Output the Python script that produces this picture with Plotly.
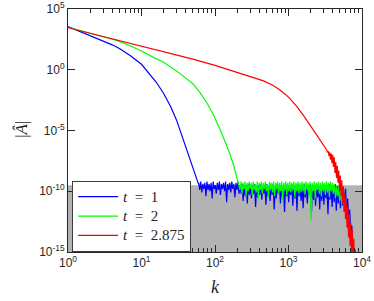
import numpy as np
import plotly.graph_objects as go

# ---- data (log10 of |A_hat|) ----
blue_k = [1, 1.5, 2, 3, 4, 5, 7, 10, 13, 16, 20, 25, 30, 37, 45, 52, 60]
blue_logA = [3.55, 3.12, 2.82, 2.40, 2.05, 1.75, 1.18, 0.45, -0.35, -1.05, -1.95,
             -3.05, -4.15, -5.7, -7.3, -8.4, -9.45]
blue_noise_range = [60, 7500]
blue_noise = [
    -9.3, -9.9, -9.2, -10.1, -9.4, -9.8, -9.3, -10.4, -9.2, -9.9,
    -9.4, -10.0, -9.3, -10.6, -9.2, -9.8, -9.5, -10.2, -9.3, -9.9,
    -9.2, -10.3, -9.4, -9.8, -9.3, -10.0, -9.2, -10.9, -9.4, -9.9,
    -9.3, -10.1, -9.2, -9.8, -9.4, -10.5, -9.3, -9.9, -9.2, -10.2,
    -9.5, -10.2, -9.4, -10.8, -9.6, -10.4, -9.5, -11.0, -9.4, -10.3,
    -9.6, -10.6, -9.5, -10.2, -9.4, -11.3, -9.6, -10.5, -9.5, -10.3,
    -9.4, -10.7, -9.6, -10.2, -9.5, -11.1, -9.4, -10.4, -9.6, -10.8,
    -9.5, -10.3, -9.4, -11.5, -9.6, -10.6, -9.5, -10.2, -9.4, -11.0,
    -9.6, -10.5, -9.5, -11.7, -9.4, -10.4, -9.6, -10.9, -9.5, -10.3,
    -9.4, -11.2, -9.6, -10.6, -9.5, -11.6, -9.4, -10.4, -9.6, -10.8,
    -9.5, -11.4, -9.4, -10.5, -9.6, -11.0, -9.5, -10.3, -9.4, -11.8,
    -9.6, -10.7, -9.5, -11.2, -9.4, -10.5, -9.6, -11.5, -9.5, -10.8,
    -9.4, -11.1, -9.6, -10.6, -9.5, -11.9, -9.4, -10.7, -9.6, -11.3,
    -9.5, -10.9, -9.4, -11.6, -9.6, -11.0, -9.5, -11.4, -9.6, -11.2,
    -9.7, -11.5, -9.8, -11.8, -10.6, -12.5, -11.5, -13.5, -12.8, -14.5,
]

green_k = [1, 2, 3, 4.6, 7, 10, 15, 20, 27, 35, 50, 63, 78, 95, 117, 140, 158, 180, 200, 212]
green_logA = [3.50, 3.0, 2.72, 2.42, 1.98, 1.55, 0.98, 0.62, 0.08, -0.40, -1.15, -1.90,
              -2.76, -3.70, -4.90, -6.0, -6.85, -7.9, -9.0, -9.45]
green_noise_range = [212, 6000]
green_noise = [
    -9.4, -9.9, -9.2, -10.2, -9.3, -9.8, -9.2, -10.4, -9.3, -10.0,
    -9.2, -9.8, -9.3, -10.3, -9.2, -9.9, -9.4, -10.1, -9.2, -10.6,
    -9.3, -9.9, -9.2, -10.2, -9.3, -9.8, -9.2, -10.0, -9.4, -10.5,
    -9.2, -9.9, -9.3, -10.1, -9.2, -10.4, -9.3, -9.8, -9.2, -10.2,
    -9.3, -10.0, -9.2, -10.7, -9.3, -9.9, -9.2, -10.3, -9.3, -10.0,
    -9.2, -10.1, -9.3, -9.9, -9.2, -10.5, -9.3, -10.0, -9.2, -10.2,
    -9.3, -10.1, -9.2, -10.0, -9.3, -10.3, -9.2, -9.9, -9.3, -10.4,
    -9.2, -12.4, -9.3, -10.0, -9.2, -10.6, -9.3, -9.9, -9.2, -10.2,
    -9.3, -10.4, -9.2, -10.0, -9.3, -10.3, -9.2, -10.1, -9.3, -10.5,
    -9.2, -10.0, -9.3, -10.2, -9.4, -10.6, -9.5, -10.4, -9.7, -10.8,
    -9.9, -11.0, -10.2, -11.4, -10.5, -11.8,
]

red_k = [1, 2, 5, 10, 23, 50, 100, 158, 251, 355, 457, 603, 759, 1000, 1288, 1660,
         2188, 2692, 3311]
red_logA = [3.46, 3.01, 2.41, 1.96, 1.44, 0.88, 0.36, -0.02, -0.40, -0.68, -0.92,
            -1.25, -1.64, -2.25, -3.0, -3.9, -4.95, -5.75, -6.6]
red_noise_range = [3390, 8300]
red_noise = [
    -6.8, -6.7, -7.1, -6.8, -7.4, -6.9, -7.7, -7.0, -8.0, -7.2,
    -8.5, -7.6, -8.9, -7.9, -9.3, -8.3, -9.8, -8.7, -10.4, -9.1,
    -11.0, -9.6, -11.7, -10.2, -12.3, -10.8, -13.0, -11.3, -13.8, -11.9,
    -14.5, -12.6, -15.2, -13.2, -16.0, -13.9, -16.5, -14.8, -17.0,
]

floor_logA = -9.5
t_values = ["1", "2", "2.875"]
colors = ["#0000ff", "#00ff00", "#ff0000"]
labels = ['<span style="font-size:15px"><i>t</i>\u2002=\u2002' + t + "</span>"
          for t in t_values]


def series(k, logA, rng, noise):
    kn = np.geomspace(rng[0], rng[1], len(noise))
    x = np.concatenate([np.array(k, float), kn])
    y = 10.0 ** np.concatenate([np.array(logA, float), np.array(noise, float)])
    return x, y


fig = go.Figure()

# gray noise-floor region
fig.add_trace(go.Scatter(
    x=[1, 1e4, 1e4, 1, 1], y=[1e-16, 1e-16, 10 ** floor_logA, 10 ** floor_logA, 1e-16],
    mode="lines", fill="toself", fillcolor="#b3b3b3", line=dict(width=0),
    showlegend=False, hoverinfo="skip"))

data = [
    (blue_k, blue_logA, blue_noise_range, blue_noise),
    (green_k, green_logA, green_noise_range, green_noise),
    (red_k, red_logA, red_noise_range, red_noise),
]
for (k, la, rng, nz), lab, col in zip(data, labels, colors):
    x, y = series(k, la, rng, nz)
    fig.add_trace(go.Scatter(x=x, y=y, mode="lines", name=lab,
                             line=dict(color=col, width=1.2)))

tickfont = dict(family="Liberation Sans, Arial, sans-serif", size=12, color="#262626")
xt = [1, 10, 100, 1000, 10000]
xtt = ["10<sup>0</sup>", "10<sup>1</sup>", "10<sup>2</sup>", "10<sup>3</sup>", "10<sup>4</sup>"]
yt = [1e-15, 1e-10, 1e-5, 1, 1e5]
ytt = ["10<sup>-15</sup>", "10<sup>-10</sup>", "10<sup>-5</sup>", "10<sup>0</sup>", "10<sup>5</sup>"]
minor_x = [m * 10 ** d for d in range(4) for m in range(2, 10)]

fig.update_xaxes(type="log", range=[0, 4], tickvals=xt, ticktext=xtt, tickfont=tickfont,
                 ticks="inside", ticklen=7, tickcolor="#262626", showline=True,
                 linecolor="#262626", linewidth=1, mirror="allticks", showgrid=False,
                 zeroline=False, automargin=False,
                 minor=dict(tickmode="array", tickvals=minor_x, ticks="inside",
                            ticklen=4, tickcolor="#262626", showgrid=False))
fig.update_yaxes(type="log", range=[-15, 5], tickvals=yt, ticktext=ytt, tickfont=tickfont,
                 ticks="inside", ticklen=7, tickcolor="#262626", showline=True,
                 linecolor="#262626", linewidth=1, mirror="allticks", showgrid=False,
                 zeroline=False, automargin=False)

serif = "Liberation Serif, Times New Roman, serif"
fig.add_annotation(text="<i>k</i>", xref="paper", yref="paper", x=0.5, y=-0.144,
                   showarrow=False, font=dict(family=serif, size=18, color="#262626"),
                   xanchor="center", yanchor="middle")
fig.add_annotation(text="|<i>Â</i>|", xref="paper", yref="paper", x=-0.158, y=0.505,
                   showarrow=False, textangle=-90,
                   font=dict(family=serif, size=17, color="#262626"),
                   xanchor="center", yanchor="middle")

fig.update_layout(
    template="none",
    width=374, height=301,
    margin=dict(l=68, r=12, t=9, b=49, autoexpand=False),
    paper_bgcolor="white", plot_bgcolor="white",
    showlegend=True,
    legend=dict(x=0.014, y=0.0, xanchor="left", yanchor="bottom",
                bgcolor="white", bordercolor="#3c3c3c", borderwidth=1,
                font=dict(family=serif, size=12.6, color="#262626"),
                itemwidth=40, tracegroupgap=0),
)

fig.write_html("out.html", config={"displayModeBar": False},
               post_script="document.body.style.margin='0';document.body.style.padding='0';")
